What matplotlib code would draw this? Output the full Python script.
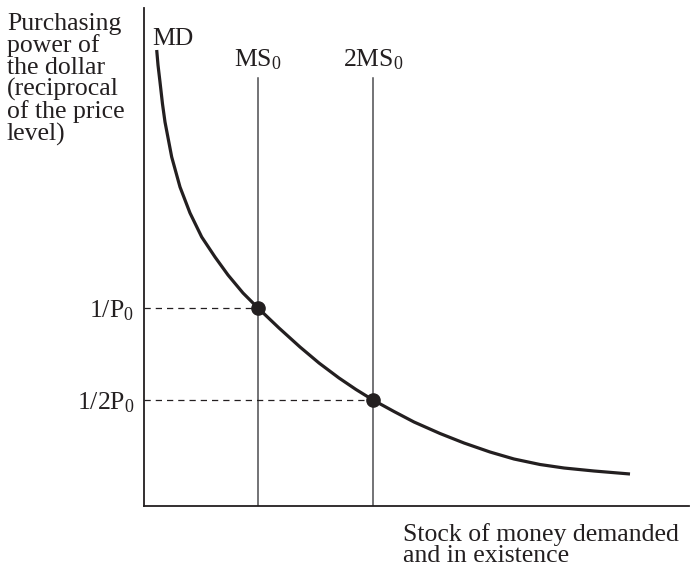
import matplotlib
matplotlib.use("Agg")
import matplotlib.pyplot as plt

plt.rcParams['font.family'] = ['Liberation Serif', 'DejaVu Serif']
plt.rcParams['mathtext.fontset'] = 'custom'
plt.rcParams['mathtext.rm'] = 'Liberation Serif'
plt.rcParams['mathtext.it'] = 'Liberation Serif:italic'

# money demand curve
md_x = [12.7, 14, 16, 18.5, 21, 27.7, 36, 46, 57.7, 71, 84, 99, 114, 135, 156, 175, 195, 212, 229,
        250, 270, 296, 320, 346, 370, 396, 420, 450, 486]
md_y = [456, 441, 424, 402, 384, 349, 319, 293, 269, 249, 231, 213, 198, 178, 159, 143, 128, 116.5, 106,
        94.5, 84, 72.5, 63, 54, 47, 41.5, 38, 35, 32]

# money supply lines and equilibria
ms_x = [114, 229]
ms_labels = ['MS$_0$', '2MS$_0$']
ms_top = 428
eq_y = [198, 106]
eq_labels = ['1/P$_0$', '1/2P$_0$']

fig = plt.figure(figsize=(6.91, 5.70), dpi=100)
ax = fig.add_axes([144/691, 64/570, 545/691, 498/570])
ax.set_xlim(0, 545)
ax.set_ylim(0, 498)

for s in ['top', 'right']:
    ax.spines[s].set_visible(False)
for s in ['left', 'bottom']:
    ax.spines[s].set_linewidth(1.3)
    ax.spines[s].set_color('#231f20')

ax.set_xticks([])
ax.set_yticks(eq_y)
ax.set_yticklabels(eq_labels, fontsize=18.5, color='#231f20')
ax.tick_params(axis='y', length=0, pad=7)

# supply lines
for x, lab in zip(ms_x, ms_labels):
    ax.plot([x, x], [0, ms_top], color='#4d4d4f', lw=1.1)
    ax.text(x, ms_top + 6, lab, ha='center', va='bottom', fontsize=18.5, color='#231f20')

# dashed guides + points
for x, y in zip(ms_x, eq_y):
    ax.plot([0, x], [y, y], color='#231f20', lw=0.9, ls=(0, (5, 4)))
ax.plot(ms_x, eq_y, 'o', color='#231f20', ms=9.5, zorder=5)

# demand curve
ax.plot(md_x, md_y, color='#231f20', lw=2.3, solid_capstyle='butt', solid_joinstyle='round')
ax.text(8, 456, 'MD', ha='left', va='bottom', fontsize=18.5, color='#231f20')

fig.text(7/691, 1 - 13/570, 'Purchasing\npower of\nthe dollar\n(reciprocal\nof the price\nlevel)',
         ha='left', va='top', fontsize=18.5, linespacing=0.96, color='#231f20')
fig.text(403/691, 1 - 523/570, 'Stock of money demanded\nand in existence',
         ha='left', va='top', fontsize=18.5, linespacing=0.96, color='#231f20')

fig.savefig('out.png', dpi=100)
